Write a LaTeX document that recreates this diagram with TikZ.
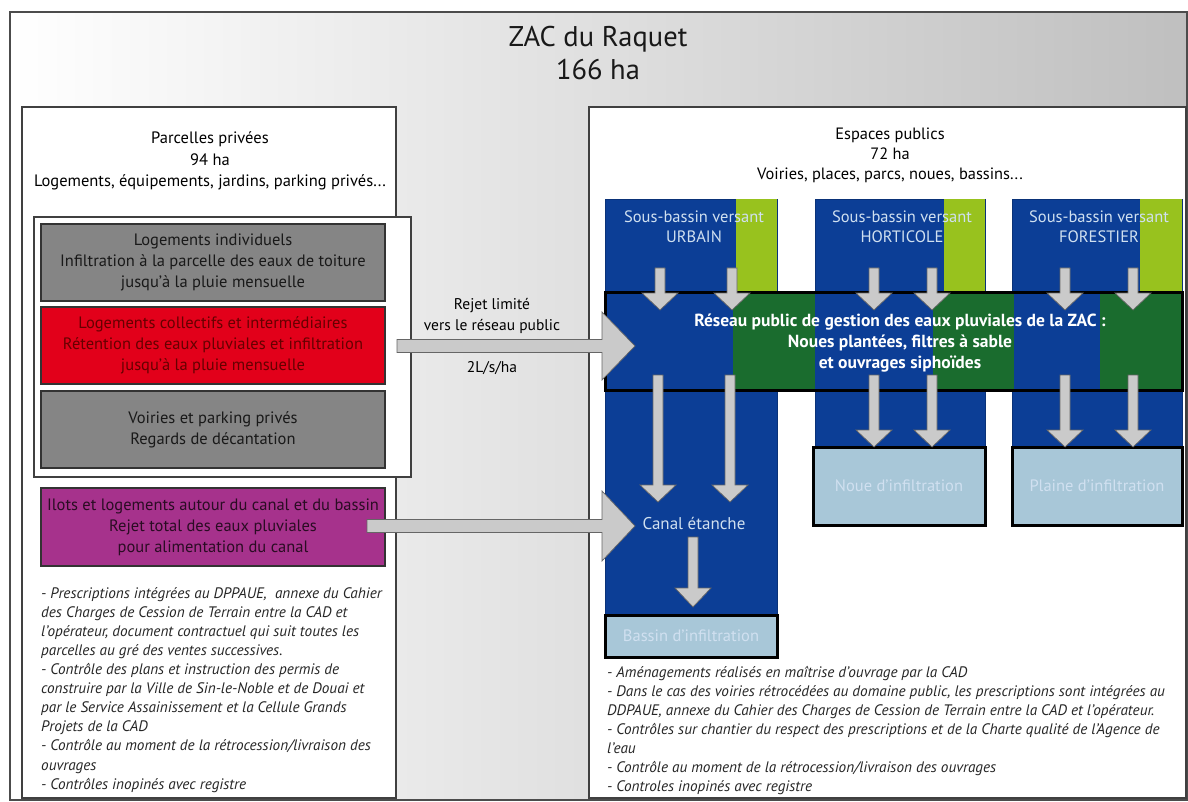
\documentclass[tikz,border=0pt]{standalone}
\usepackage{fontspec}
\setmainfont{PT Sans}
\usepackage{tikz}
\usetikzlibrary{calc, positioning}
\definecolor{bleuzac}{RGB}{12, 62, 150}
\definecolor{vertclair}{RGB}{152, 194, 30}
\definecolor{vertfonce}{RGB}{26, 108, 46}
\definecolor{bleuclair}{RGB}{168, 199, 216}
\definecolor{griszac}{RGB}{133, 133, 133}
\definecolor{rougezac}{RGB}{226, 0, 26}
\definecolor{violetzac}{RGB}{166, 50, 140}
\definecolor{grisfleche}{RGB}{202, 202, 202}
\definecolor{textebleu}{RGB}{208, 224, 240}

% fleche pleine : depart, pointe, demi-tige, demi-tete, longueur tete
\newcommand{\fleche}[5]{%
  \coordinate (fb) at ($(#2)!#5!(#1)$);
  \draw[fleche] ($(#1)!#3!90:(#2)$) -- ($(fb)!#3!90:(#2)$) -- ($(fb)!#4!90:(#2)$)
    -- (#2) -- ($(fb)!#4!-90:(#2)$) -- ($(fb)!#3!-90:(#2)$) -- ($(#1)!#3!-90:(#2)$) -- cycle;
}

\begin{document}
\begin{tikzpicture}[x=1pt, y=-1pt,
    boite/.style={rectangle, anchor=north west, inner sep=0pt, outer sep=0pt, align=center,
                  font=\fontsize{16.5}{21}\selectfont},
    cadre/.style={boite, draw=black!75, line width=1.2pt, fill=white},
    parcelle/.style={boite, draw=black!80, line width=1.5pt, minimum width=344pt, minimum height=77pt},
    bassin/.style={boite, fill=bleuzac, draw=bleuzac!80!black, line width=0.6pt},
    infiltr/.style={boite, fill=bleuclair, draw=black, line width=3pt, text=textebleu},
    soustitre/.style={text=textebleu, font=\fontsize{16.5}{20}\selectfont, align=center},
    notes/.style={anchor=north west, inner sep=0pt, align=left, text=black!85,
                  font=\fontsize{15.2}{19.1}\selectfont\itshape},
    fleche/.style={fill=grisfleche, draw=black!60, line width=0.7pt, line join=miter},
]
    \useasboundingbox (0,0) rectangle (1188,802);

    % cadre general
    \node[boite, left color=white, right color=black!25, draw=black!70, line width=1.5pt,
          minimum width=1177pt, minimum height=788pt] (zac) at (10,12) {};
    \node[font=\fontsize{28.5}{33}\selectfont, align=center, text=black!90] (titre) at (598,53)
        {ZAC du Raquet\\166 ha};

    % parcelles privees
    \node[cadre, minimum width=374pt, minimum height=691pt] (prive) at (22,107) {};
    \node[font=\fontsize{16.5}{21.5}\selectfont, align=center] (prive titre) at (210,161)
        {Parcelles privées\\94 ha\\Logements, équipements, jardins, parking privés...};
    \node[cadre, minimum width=377pt, minimum height=260pt] (bloc) at (34,217) {};
    \node[parcelle, fill=griszac, text=black!90] (indiv) at (41,224)
        {Logements individuels\\Infiltration à la parcelle des eaux de toiture\\jusqu'à la pluie mensuelle};
    \node[parcelle, fill=rougezac, text=red!40!black] (collectif) at (41,307)
        {Logements collectifs et intermédiaires\\Rétention des eaux pluviales et infiltration\\jusqu'à la pluie mensuelle};
    \node[parcelle, fill=griszac, text=black!90] (voiries) at (41,391)
        {Voiries et parking privés\\Regards de décantation};
    \node[parcelle, fill=violetzac, text=violetzac!25!black, minimum height=78pt] (ilots) at (41,488)
        {Ilots et logements autour du canal et du bassin\\Rejet total des eaux pluviales\\pour alimentation du canal};
    \node[notes] (notes prive) at (41,587)
        {- Prescriptions intégrées au DPPAUE,~ annexe du Cahier\\
         des Charges de Cession de Terrain entre la CAD et\\
         l'opérateur, document contractuel qui suit toutes les\\
         parcelles au gré des ventes successives.\\
         - Contrôle des plans et instruction des permis de\\
         construire par la Ville de Sin-le-Noble et de Douai et\\
         par le Service Assainissement et la Cellule Grands\\
         Projets de la CAD\\
         - Contrôle au moment de la rétrocession/livraison des\\
         ouvrages\\
         - Contrôles inopinés avec registre};

    % espaces publics
    \node[cadre, minimum width=597pt, minimum height=691pt] (public) at (589,107) {};
    \node[font=\fontsize{16.4}{20}\selectfont, align=center] (public titre) at (890,155)
        {Espaces publics\\72 ha\\Voiries, places, parcs, noues, bassins...};

    % sous-bassins versants
    \node[bassin, minimum width=172pt, minimum height=416pt] (urbain) at (605,199) {};
    \node[bassin, minimum width=170pt, minimum height=248pt] (horticole) at (815,199) {};
    \node[bassin, minimum width=170pt, minimum height=248pt] (forestier) at (1012,199) {};
    \fill[vertclair] (736,199) rectangle (777,292);
    \fill[vertclair] (944,199) rectangle (985,292);
    \fill[vertclair] (1140,199) rectangle (1182,292);
    \node[soustitre] (urbain txt) at (694,227) {Sous-bassin versant\\URBAIN};
    \node[soustitre] (horticole txt) at (902,227) {Sous-bassin versant\\HORTICOLE};
    \node[soustitre] (forestier txt) at (1099,227) {Sous-bassin versant\\FORESTIER};

    % reseau public
    \node[boite, fill=bleuzac, minimum width=577pt, minimum height=98pt] (reseau) at (605,292) {};
    \fill[vertfonce] (733,292) rectangle (815,390);
    \fill[vertfonce] (933,292) rectangle (1014,390);
    \fill[vertfonce] (1100,292) rectangle (1182,390);
    \draw[black, line width=3pt] (reseau.north west) rectangle (reseau.south east);
    \node[text=white, font=\fontsize{17.5}{21}\selectfont\bfseries, align=center] (reseau txt) at (900,343)
        {Réseau public de gestion des eaux pluviales de la ZAC :\\Noues plantées, filtres à sable\\et ouvrages siphoïdes};

    % ouvrages d'infiltration
    \node[infiltr, minimum width=172pt, minimum height=42pt] (bassin inf) at (605,615) {Bassin d'infiltration};
    \node[infiltr, minimum width=172pt, minimum height=78pt] (noue) at (813,447) {Noue d'infiltration};
    \node[infiltr, minimum width=170pt, minimum height=78pt] (plaine) at (1012,447) {Plaine d'infiltration};
    \node[text=textebleu, font=\fontsize{17}{20}\selectfont] (canal) at (694,523) {Canal étanche};

    \node[notes] (notes public) at (607,666)
        {- Aménagements réalisés en maîtrise d'ouvrage par la CAD\\
         - Dans le cas des voiries rétrocédées au domaine public, les prescriptions sont intégrées au\\
         DDPAUE, annexe du Cahier des Charges de Cession de Terrain entre la CAD et l'opérateur.\\
         - Contrôles sur chantier du respect des prescriptions et de la Charte qualité de l'Agence de\\
         l'eau\\
         - Contrôle au moment de la rétrocession/livraison des ouvrages\\
         - Controles inopinés avec registre};

    % fleches vers le reseau
    \coordinate (u1) at (660,268);  \coordinate (u2) at (732,268);
    \coordinate (h1) at (874,268);  \coordinate (h2) at (932,268);
    \coordinate (f1) at (1065,268); \coordinate (f2) at (1133,268);
    \fleche{u1}{u1 |- 0,310}{5pt}{18pt}{17pt}
    \fleche{u2}{u2 |- 0,310}{5pt}{18pt}{17pt}
    \fleche{h1}{h1 |- 0,310}{5pt}{18pt}{17pt}
    \fleche{h2}{h2 |- 0,310}{5pt}{18pt}{17pt}
    \fleche{f1}{f1 |- 0,310}{5pt}{18pt}{17pt}
    \fleche{f2}{f2 |- 0,310}{5pt}{18pt}{17pt}

    % fleches depuis le reseau
    \coordinate (d1) at (658,375);  \coordinate (d2) at (730,375);
    \coordinate (d3) at (874,375);  \coordinate (d4) at (932,375);
    \coordinate (d5) at (1065,375); \coordinate (d6) at (1133,375);
    \fleche{d1}{d1 |- 0,502}{5pt}{18pt}{17pt}
    \fleche{d2}{d2 |- 0,502}{5pt}{18pt}{17pt}
    \fleche{d3}{d3 |- noue.north}{5pt}{18pt}{17pt}
    \fleche{d4}{d4 |- noue.north}{5pt}{18pt}{17pt}
    \fleche{d5}{d5 |- plaine.north}{5pt}{18pt}{17pt}
    \fleche{d6}{d6 |- plaine.north}{5pt}{18pt}{17pt}
    \coordinate (c1) at (693,537);
    \fleche{c1}{c1 |- 0,607}{5pt}{18pt}{19pt}

    % rejets des parcelles
    \coordinate (rejet1) at (397,346);
    \coordinate (rejet2) at (367,526);
    \fleche{rejet1}{rejet1 -| 635,0}{6.5pt}{34pt}{33pt}
    \fleche{rejet2}{rejet2 -| 635,0}{6.5pt}{35pt}{33pt}
    \node[font=\fontsize{15.5}{21}\selectfont, align=center] (rejet txt) at (492,316)
        {Rejet limité\\vers le réseau public};
    \node[font=\fontsize{15.5}{21}\selectfont] (debit) at (492,368) {2L/s/ha};
\end{tikzpicture}
\end{document}
